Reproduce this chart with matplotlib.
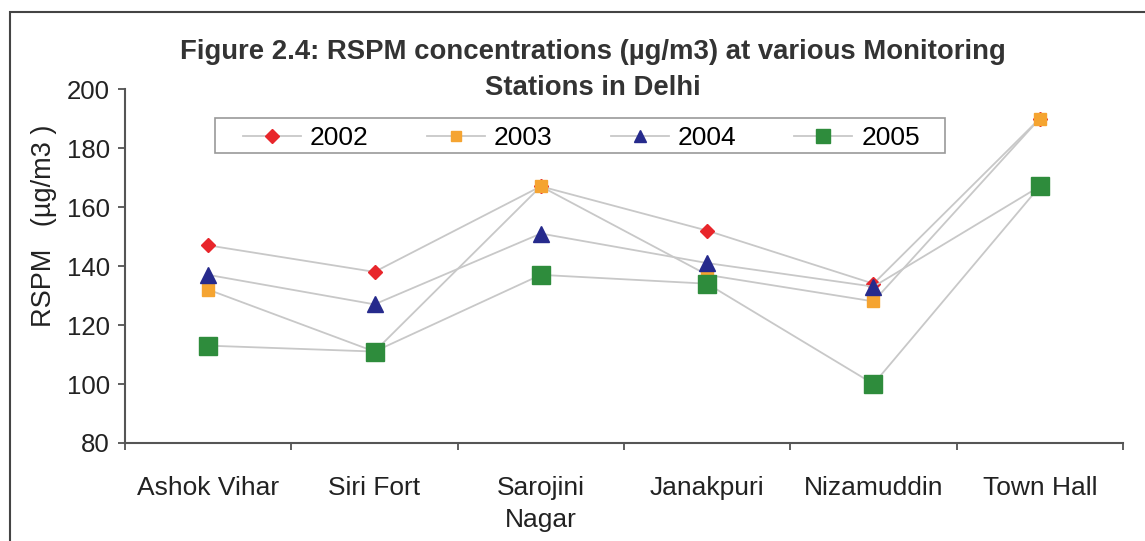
import matplotlib
matplotlib.use("Agg")
import matplotlib.pyplot as plt
from matplotlib.patches import Rectangle
import numpy as np

plt.rcParams['font.family'] = ['Liberation Sans', 'DejaVu Sans']

stations = ["Ashok Vihar", "Siri Fort", "Sarojini\nNagar", "Janakpuri", "Nizamuddin", "Town Hall"]
years = ["2002", "2003", "2004", "2005"]
rspm_2002 = [147, 138, 167, 152, 134, 190]
rspm_2003 = [132, 111, 167, 137, 128, 190]
rspm_2004 = [137, 127, 151, 141, 133, 167]
rspm_2005 = [113, 111, 137, 134, 100, 167]

series = [rspm_2002, rspm_2003, rspm_2004, rspm_2005]
colors = ["#e8262b", "#f5a431", "#262a8c", "#2e8c3c"]
markers = ["D", "s", "^", "s"]
sizes = [7.5, 9, 12, 12.5]
leg_sizes = [7, 7, 9, 10]

W, H = 1145, 541
fig = plt.figure(figsize=(W / 100, H / 100), dpi=100)
ax = fig.add_axes([125 / W, 1 - 443 / H, (1123 - 125) / W, (443 - 89) / H])

# outer frame of the figure
fig.patches.append(Rectangle((10 / W, -0.05), 1.2, 1 - 12 / H + 0.05,
                             transform=fig.transFigure, fill=False,
                             edgecolor="#444444", linewidth=1.5))
# legend box
fig.patches.append(Rectangle((215 / W, 1 - 153 / H), 730 / W, 35 / H,
                             transform=fig.transFigure, fill=False,
                             edgecolor="#999999", linewidth=1.2, zorder=5))

x = np.arange(len(stations))
for vals, c, m, s, lab in zip(series, colors, markers, sizes, years):
    ax.plot(x, vals, color="#c8c8c8", linewidth=1.3, marker=m, markersize=s,
            markerfacecolor=c, markeredgecolor=c, label=lab)

ax.set_xlim(-0.5, len(stations) - 0.5)
ax.set_ylim(80, 200)
ax.set_yticks(np.arange(80, 201, 20))
ax.set_xticks(x)
ax.set_xticklabels(stations, fontsize=19, color="#222222", linespacing=1.4)
ax.set_xticks(np.arange(-0.5, len(stations) - 0.4, 1), minor=True)
ax.tick_params(axis="x", which="major", length=0, pad=24)
ax.tick_params(axis="x", which="minor", length=5, width=1.2, color="#444444")
ax.tick_params(axis="y", length=5, width=1.2, color="#444444", labelsize=18.5,
               labelcolor="#222222", pad=6)

for side in ["top", "right"]:
    ax.spines[side].set_visible(False)
for side in ["left", "bottom"]:
    ax.spines[side].set_color("#555555")
    ax.spines[side].set_linewidth(1.5)

ax.set_ylabel("RSPM   (\u00b5g/m3 )", fontsize=19.5, color="#222222")
ax.yaxis.set_label_coords(-0.068, 0.613)

fig.text(593 / W, 1 - 70 / H, "Figure 2.4: RSPM concentrations (\u00b5g/m3) at various Monitoring\nStations in Delhi",
         ha="center", va="center", fontsize=19.8, fontweight="bold", color="#333333",
         linespacing=1.5)

leg = fig.legend(ncol=4, loc="upper left", bbox_to_anchor=(243 / W, 1 - 126 / H),
                 bbox_transform=fig.transFigure, borderaxespad=0,
                 fontsize=19, frameon=False, borderpad=0,
                 handlelength=2.2, columnspacing=2.2, handletextpad=0.34)
for h, s in zip(leg.legend_handles, leg_sizes):
    h.set_markersize(s)

fig.savefig("out.png", dpi=100)
